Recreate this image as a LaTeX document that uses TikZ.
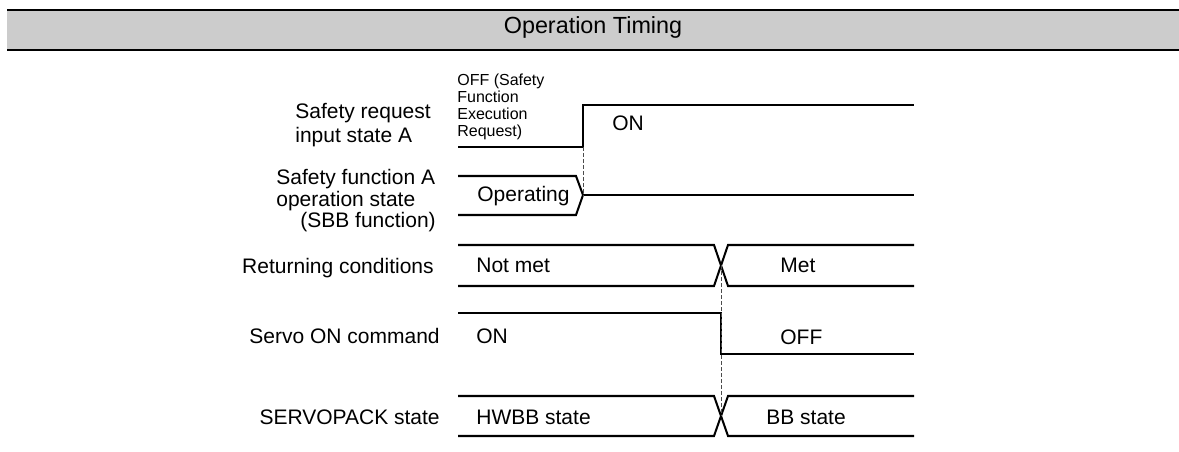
\documentclass[tikz,border=0pt]{standalone}
\usepackage{fontspec}
\setmainfont{Liberation Sans}
\begin{document}
\begin{tikzpicture}[
  x=0.02cm,y=-0.02cm,
  sig/.style={line width=1.15pt,line join=miter},
  guide/.style={line width=0.55pt,black!70,dash pattern=on 2.2pt off 1.2pt},
  bar/.style={line width=1.2pt},
  lbl/.style={font=\fontsize{11.95}{12.5}\selectfont,inner sep=0pt},
  note/.style={font=\fontsize{9.1}{9.8}\selectfont,inner sep=0pt,align=left},
  ttl/.style={font=\fontsize{13.3}{15}\selectfont,inner sep=0pt}]
\useasboundingbox (0,0) rectangle (1179,452);

% Title band.
\fill[black!20] (7,10) rectangle (1179,50);
\draw[bar] (7,10) -- (1179,10);
\draw[bar] (7,50) -- (1179,50);
\node[ttl,anchor=base] (title) at (593,34) {Operation Timing};

% Signal names (base = baseline of the last line).
\node[lbl,anchor=base west,align=left] (reqName) at (295,143)
 {Safety request\\[1.7pt]input state A};
\node[lbl,anchor=base west,align=left] (sbbName) at (276,228)
 {Safety function A\\operation state\\\hspace*{0.48cm}(SBB function)};
\node[lbl,anchor=base east] (retName) at (434,274) {Returning conditions};
\node[lbl,anchor=base east] (svonName) at (440,343) {Servo ON command};
\node[lbl,anchor=base east] (packName) at (440,424) {SERVOPACK state};

% Edge points.
\coordinate (reqEdge) at (583,147);
\coordinate (sbbEdge) at (583,195);
\coordinate (retX) at (721,265.5);
\coordinate (svonEdge) at (721,313);
\coordinate (packX) at (721,416);

% Safety request input state A.
\draw[sig] (458,147) -- (reqEdge) -- (583,105) -- (914,105);
\node[note,anchor=base west] (offNote) at (457,137)
 {OFF (Safety\\Function\\Execution\\Request)};
\node[lbl,anchor=base west] (reqOn) at (612,131) {ON};

% Safety function A operation state.
\draw[sig] (458,176) -- (576,176) -- (sbbEdge) -- (576,215) -- (458,215);
\draw[sig] (sbbEdge) -- (914,195);
\node[lbl,anchor=base west] (operating) at (477,202) {Operating};

% Returning conditions.
\draw[sig] (458,245) -- (714,245) -- (728,286) -- (914,286);
\draw[sig] (458,286) -- (714,286) -- (728,245) -- (914,245);
\node[lbl,anchor=base west] (notMet) at (476,273) {Not met};
\node[lbl,anchor=base west] (met) at (780,273) {Met};

% Servo ON command.
\draw[sig] (458,313) -- (svonEdge) -- (721,354) -- (914,354);
\node[lbl,anchor=base west] (svOn) at (476,343) {ON};
\node[lbl,anchor=base west] (svOff) at (780,344) {OFF};

% SERVOPACK state.
\draw[sig] (458,396) -- (714,396) -- (728,436) -- (914,436);
\draw[sig] (458,436) -- (714,436) -- (728,396) -- (914,396);
\node[lbl,anchor=base west] (hwbb) at (476,424) {HWBB state};
\node[lbl,anchor=base west] (bb) at (766,424) {BB state};

% Timing guides.
\draw[guide] (reqEdge) -- (sbbEdge);
\draw[guide] (retX) -- (packX);
\end{tikzpicture}
\end{document}
